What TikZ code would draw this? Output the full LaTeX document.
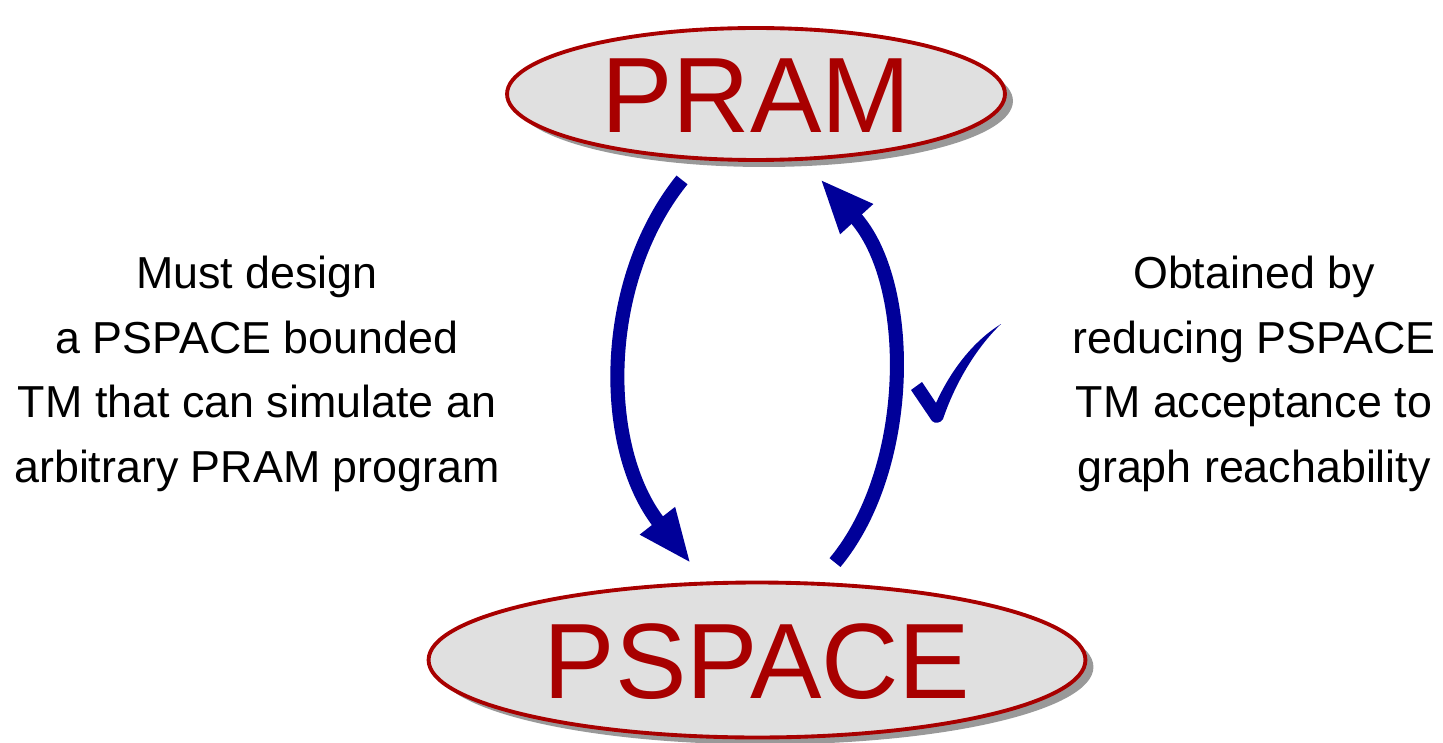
\documentclass[tikz,border=0pt]{standalone}
\usepackage{fontspec}
\setmainfont{Liberation Sans}
\usetikzlibrary{shapes.geometric,shadows,arrows.meta,calc}
\definecolor{classred}{HTML}{A80000}
\definecolor{arrowblue}{HTML}{000099}
\definecolor{shell}{HTML}{E0E0E0}

\begin{document}
\begin{tikzpicture}[x=0.02cm,y=-0.02cm,
    class/.style={ellipse,draw=classred,line width=2.2pt,fill=shell,
      drop shadow={shadow xshift=0.16cm,shadow yshift=-0.14cm,opacity=0.8},
      text=classred,inner sep=0pt,font=\fontsize{61}{61}\selectfont,
      text height=43.7pt,text depth=0pt},
    note/.style={align=center,font=\fontsize{25.5}{36.7}\selectfont},
    flow/.style={draw=arrowblue,line width=8pt,-{Triangle[length=31pt,width=23pt]}}]
    \useasboundingbox (0,0) rectangle (1443,743);
    \node[class,minimum width=9.96cm,minimum height=2.64cm] (pram) at (756,94) {PRAM} ;
    \node[class,minimum width=13.14cm,minimum height=3.1cm] (pspace) at (757,660) {PSPACE} ;
    \node[note] (hard) at (257,374) {Must design\\a PSPACE bounded\\TM that can simulate an\\arbitrary PRAM program} ;
    \node[note] (done) at (1254,374) {Obtained by\\reducing PSPACE\\TM acceptance to\\graph reachability} ;
    \draw[flow] ($(pram.south)+(-74,18)$) .. controls +(-82,102) and +(-91,-116) .. ($(pspace.north)+(-66,-17)$) ;
    \draw[flow] ($(pspace.north)+(78,-18)$) .. controls +(79,-95) and +(94,103) .. ($(pram.south)+(64,17)$) ;
    % tick
    \fill[arrowblue] (911,390) -- (922,382) -- (936,403) .. controls (950,372) and (972,342) .. (1001,324)
      .. controls (982,342) and (958,375) .. (943,419) .. controls (941,423) and (935,424) .. (932,421) -- cycle ;
  \end{tikzpicture}
\end{document}
